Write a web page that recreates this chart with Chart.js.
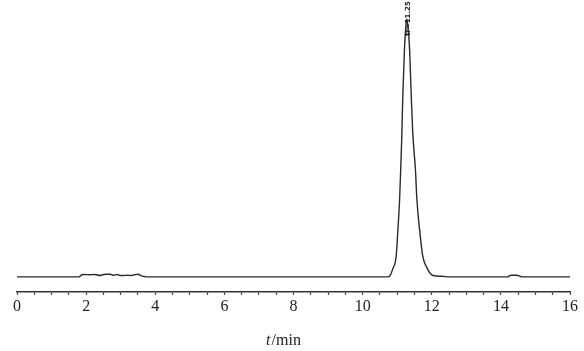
<!DOCTYPE html>
<html>
<head>
<meta charset="utf-8">
<script src="https://cdn.jsdelivr.net/npm/chart.js@4"></script>
<style>
  html, body { margin: 0; padding: 0; background: #fff; }
  #wrap { width: 584px; height: 351px; }
</style>
</head>
<body>
<div id="wrap"><canvas id="chrom"></canvas></div>
<script>
// retention time (min) and detector signal (relative units, peak = 100)
const times = [0, 1.8, 1.87, 1.95, 2.1, 2.25, 2.4, 2.5, 2.6, 2.7, 2.8, 2.9, 3.0, 3.1, 3.2, 3.3, 3.4, 3.5, 3.6, 3.7, 3.75,
  10.6, 10.72, 10.8, 10.87, 10.97, 11.02, 11.07, 11.10, 11.13, 11.16, 11.21, 11.25, 11.28, 11.31, 11.36, 11.41, 11.45,
  11.53, 11.57, 11.65, 11.74, 11.88, 12.02, 12.3, 12.5, 14.2, 14.25, 14.3, 14.45, 14.55, 14.6, 16];
const signal = [0, 0, 0.8, 0.9, 0.8, 0.9, 0.5, 0.9, 1.0, 1.0, 0.6, 0.9, 0.5, 0.5, 0.6, 0.5, 0.8, 1.0, 0.4, 0.1, 0,
  0, 0, 0.6, 3, 8, 18, 30, 41, 53, 69, 88, 97, 100, 97, 88, 69, 56,
  41, 30, 18, 8, 3, 0.6, 0.2, 0, 0, 0.5, 0.6, 0.6, 0.3, 0, 0];
const xTicksMajor = [0, 2, 4, 6, 8, 10, 12, 14, 16];
const peakLabel = 'tr=11.25';
const peakTime = 11.28;
const axisTitleItalic = 't';
const axisTitleRest = '/min';

const points = times.map((t, i) => ({ x: t, y: signal[i] }));

const labelsPlugin = {
  id: 'labels',
  afterDraw(chart) {
    const ctx = chart.ctx;
    const xs = chart.scales.x;
    ctx.save();
    // peak annotation, vertical
    ctx.translate(xs.getPixelForValue(peakTime) + 1, 36);
    ctx.rotate(-Math.PI / 2);
    ctx.fillStyle = '#222';
    ctx.font = 'bold 7px "DejaVu Sans"';
    ctx.textAlign = 'left';
    ctx.textBaseline = 'middle';
    ctx.fillText(peakLabel, 0, 0);
    ctx.restore();

    // x axis title: italic t + /min
    ctx.save();
    ctx.fillStyle = '#222';
    ctx.textBaseline = 'middle';
    ctx.font = 'italic 16px "Liberation Serif"';
    const w1 = ctx.measureText(axisTitleItalic).width;
    ctx.font = '16px "Liberation Serif"';
    const w2 = ctx.measureText(axisTitleRest).width;
    const cx = 283;
    let x0 = cx - (w1 + w2) / 2;
    ctx.font = 'italic 16px "Liberation Serif"';
    ctx.fillText(axisTitleItalic, x0, 341);
    ctx.font = '16px "Liberation Serif"';
    ctx.fillText(axisTitleRest, x0 + w1 + 1, 341);
    ctx.restore();
  }
};

new Chart(document.getElementById('chrom'), {
  type: 'line',
  data: {
    datasets: [{
      data: points,
      borderColor: '#2a2a2a',
      borderWidth: 1.4,
      pointRadius: 0,
      cubicInterpolationMode: 'monotone',
      fill: false
    }]
  },
  options: {
    responsive: true,
    maintainAspectRatio: false,
    animation: false,
    layout: { padding: { left: 17, right: 14, top: 6, bottom: 33 } },
    plugins: { legend: { display: false }, tooltip: { enabled: false } },
    scales: {
      x: {
        type: 'linear',
        min: 0,
        max: 16,
        border: { color: '#333', width: 1.5 },
        grid: { drawOnChartArea: false, tickLength: 3, color: '#333', tickWidth: 1.2 },
        ticks: {
          stepSize: 0.5,
          autoSkip: false,
          maxRotation: 0,
          padding: 2,
          color: '#222',
          font: { family: '"Liberation Serif"', size: 16 },
          callback: v => xTicksMajor.includes(v) ? String(v) : ''
        }
      },
      y: {
        display: false,
        min: -5.8,
        max: 105
      }
    }
  },
  plugins: [labelsPlugin]
});
</script>
</body>
</html>
